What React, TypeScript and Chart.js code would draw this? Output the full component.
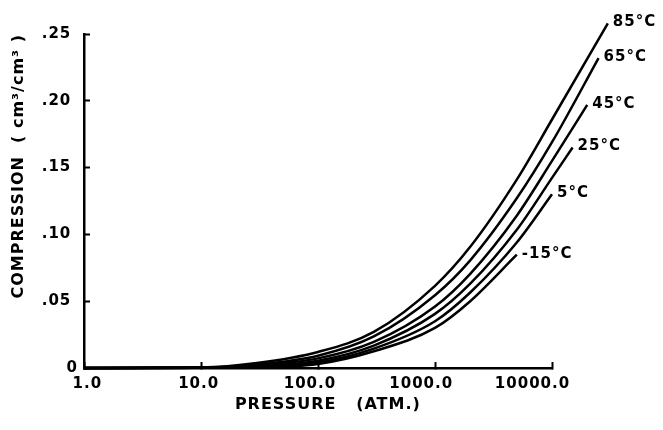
import { useEffect, useRef } from 'react';
import { Chart, registerables } from 'chart.js';

Chart.register(...registerables);

// ---- data ----
const TEMPERATURES = ['85°C', '65°C', '45°C', '25°C', '5°C', '-15°C'];

const P_85 = [1, 10, 30, 100, 300, 1000, 2000, 5000, 10000, 30000];
const V_85 = [0, 0.0004, 0.0037, 0.012, 0.027, 0.0615, 0.0907, 0.141, 0.186, 0.258];

const P_65 = [1, 10, 30, 100, 300, 1000, 2000, 5000, 10000, 25000];
const V_65 = [0, 0.0002, 0.0026, 0.0092, 0.0236, 0.0545, 0.0806, 0.127, 0.169, 0.232];

const P_45 = [1, 10, 30, 100, 300, 1000, 2000, 5000, 10000, 20000];
const V_45 = [0, 0.0001, 0.0019, 0.0072, 0.0195, 0.046, 0.0705, 0.114, 0.155, 0.197];

const P_25 = [1, 10, 30, 100, 300, 1000, 2000, 5000, 10000, 15000];
const V_25 = [0, 0.0001, 0.0012, 0.0055, 0.0168, 0.0405, 0.0631, 0.1035, 0.1423, 0.165];

const P_5 = [1, 10, 30, 100, 300, 1000, 2000, 5000, 10000];
const V_5 = [0, 0.0001, 0.0007, 0.0042, 0.0145, 0.035, 0.0565, 0.0939, 0.130];

const P_M15 = [1, 10, 30, 100, 300, 1000, 2000, 5000];
const V_M15 = [0, 0.0001, 0.0003, 0.003, 0.0125, 0.03, 0.05, 0.0848];

const X_MIN = 1;
const X_MAX = 10000;
const X_TICKS = [1, 10, 100, 1000, 10000];
const X_TICK_LABELS = ['1.0', '10.0', '100.0', '1000.0', '10000.0'];
const Y_TICKS = [0, 0.05, 0.1, 0.15, 0.2, 0.25];
const Y_TICK_LABELS = ['0', '.05', '.10', '.15', '.20', '.25'];

const X_TITLE = '   PRESSURE   (ATM.)';
const Y_TITLE = 'COMPRESSION  ( cm³/cm³ )';

const SERIES_P = [P_85, P_65, P_45, P_25, P_5, P_M15];
const SERIES_V = [V_85, V_65, V_45, V_25, V_5, V_M15];

// ---- styling ----
const FONT_FAMILY = '"DejaVu Sans", "Liberation Sans", sans-serif';
const INK = '#000';

// put the decimal point of each x label on its tick
function xLabel(i: number): string {
  const s = X_TICK_LABELS[i];
  const intLen = s.indexOf('.');
  return '\u2008' + s + '\u2007'.repeat(Math.max(0, intLen - 1));
}

function yLabel(i: number): string {
  const s = Y_TICK_LABELS[i];
  return s === '0' ? s : s + '\u2008';
}

const spacingPlugin = {
  id: 'letterSpacing',
  beforeDraw(chart: any) {
    chart.ctx.letterSpacing = '1px';
  },
};

const curveLabels = {
  id: 'curveLabels',
  afterDatasetsDraw(chart: any) {
    const ctx = chart.ctx;
    ctx.save();
    ctx.font = `bold 15px ${FONT_FAMILY}`;
    ctx.fillStyle = INK;
    ctx.textAlign = 'left';
    ctx.textBaseline = 'middle';
    chart.data.datasets.forEach((ds: any, i: number) => {
      const meta = chart.getDatasetMeta(i);
      const pt = meta.data[meta.data.length - 1];
      if (pt) ctx.fillText(ds.label, pt.x + 5, pt.y - 1);
    });
    ctx.restore();
  },
};

export default function App() {
  const ref = useRef<HTMLCanvasElement>(null);

  useEffect(() => {
    const canvas = ref.current;
    if (!canvas) return;

    const datasets = TEMPERATURES.map((label, k) => ({
      label,
      data: SERIES_P[k].map((p, j) => ({ x: p, y: SERIES_V[k][j] })),
      borderColor: INK,
      borderWidth: 2.5,
      pointRadius: 0,
      fill: false,
      cubicInterpolationMode: 'monotone' as const,
      clip: false as any,
    }));

    const tickFont = { family: FONT_FAMILY, size: 15, weight: 'bold' as const };
    const titleFont = { family: FONT_FAMILY, size: 16, weight: 'bold' as const };

    const chart = new Chart(canvas, {
      type: 'line',
      data: { datasets },
      options: {
        animation: false,
        responsive: false,
        devicePixelRatio: 1,
        layout: { padding: { top: 34, right: 111, left: 0, bottom: 0 } },
        plugins: {
          legend: { display: false },
          tooltip: { enabled: false },
        },
        scales: {
          x: {
            type: 'logarithmic',
            position: 'bottom',
            afterDataLimits: (s: any) => {
              s.min = X_MIN;
              s.max = X_MAX;
            },
            afterBuildTicks: (s: any) => {
              s.ticks = X_TICKS.map((v) => ({ value: v }));
            },
            afterFit: (s: any) => {
              s.height = 62;
            },
            ticks: {
              callback: (_v: any, i: number) => xLabel(i),
              font: tickFont,
              color: INK,
              padding: 13,
              maxRotation: 0,
              autoSkip: false,
            },
            grid: {
              display: true,
              drawOnChartArea: false,
              drawTicks: true,
              tickLength: -6,
              tickWidth: 2,
              tickColor: INK,
            },
            border: { display: true, color: INK, width: 2.5 },
            title: {
              display: true,
              text: X_TITLE,
              font: titleFont,
              color: INK,
              padding: { top: 0, bottom: 16 },
            },
          },
          y: {
            type: 'linear',
            position: 'left',
            min: 0,
            max: 0.25,
            afterBuildTicks: (s: any) => {
              s.ticks = Y_TICKS.map((v) => ({ value: v }));
            },
            afterFit: (s: any) => {
              s.width = 84;
            },
            ticks: {
              callback: (_v: any, i: number) => yLabel(i),
              font: tickFont,
              color: INK,
              padding: 12,
            },
            grid: {
              display: true,
              drawOnChartArea: false,
              drawTicks: true,
              tickLength: -6,
              tickWidth: 2,
              tickColor: INK,
            },
            border: { display: true, color: INK, width: 2.5 },
            title: {
              display: true,
              text: Y_TITLE,
              font: titleFont,
              color: INK,
              align: 'end',
              padding: { top: 9, bottom: 0 },
            },
          },
        },
      },
      plugins: [spacingPlugin, curveLabels],
    });

    return () => chart.destroy();
  }, []);

  return (
    <div style={{ position: 'absolute', left: 0, top: 0, width: 663, height: 430, background: '#fff' }}>
      <canvas ref={ref} width={663} height={430} style={{ display: 'block' }} />
    </div>
  );
}
